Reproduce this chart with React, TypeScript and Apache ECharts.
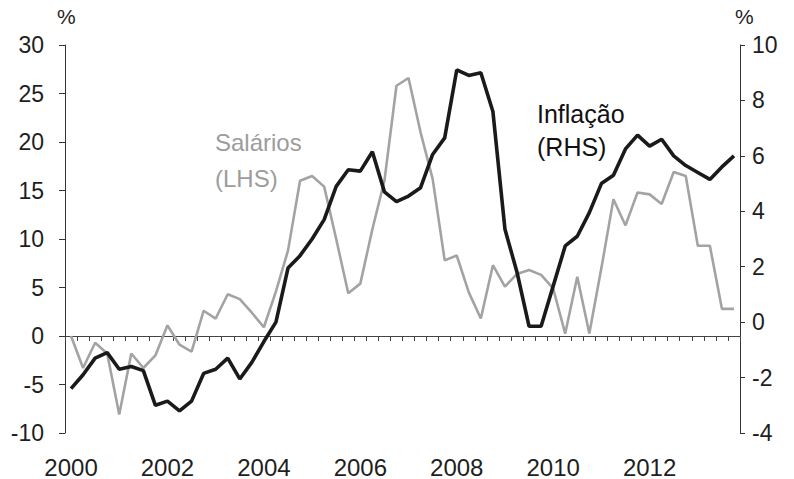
import React, { useEffect, useRef } from "react";
import * as echarts from "echarts";

const years: number[] = [2000, 2001, 2002, 2003, 2004, 2005, 2006, 2007, 2008, 2009, 2010, 2011, 2012, 2013];
const quarters: string[] = years.flatMap((y) => [`${y}T1`, `${y}T2`, `${y}T3`, `${y}T4`]);

// Inflação (RHS), %
const inflacao: number[] = [
  -2.4, -1.9, -1.3, -1.1, -1.7, -1.6, -1.75, -3.0,
  -2.85, -3.2, -2.85, -1.85, -1.7, -1.3, -2.05, -1.45,
  -0.7, 0.0, 1.95, 2.4, 3.0, 3.7, 4.9, 5.5,
  5.45, 6.15, 4.7, 4.35, 4.55, 4.85, 6.05, 6.65,
  9.1, 8.9, 9.0, 7.6, 3.35, 1.8, -0.15, -0.15,
  1.3, 2.75, 3.1, 3.95, 5.0, 5.3, 6.25, 6.75,
  6.35, 6.6, 6.0, 5.65, 5.4, 5.15, 5.6, 6.0,
];

// Salários (LHS), %
const salarios: number[] = [
  0.0, -3.3, -0.7, -1.8, -8.1, -1.8, -3.3, -2.0,
  1.1, -0.9, -1.6, 2.6, 1.8, 4.3, 3.8, 2.4,
  0.9, 4.6, 8.8, 16.0, 16.5, 15.4, 10.0, 4.4,
  5.4, 11.0, 16.0, 25.8, 26.6, 21.0, 16.2, 7.8,
  8.3, 4.5, 1.8, 7.3, 5.1, 6.4, 6.8, 6.3,
  4.9, 0.25, 6.1, 0.25, 7.0, 14.1, 11.4, 14.8,
  14.6, 13.6, 16.9, 16.5, 9.3, 9.3, 2.8, 2.8,
];

const leftAxis = { min: -10, max: 30, interval: 5 };
const rightAxis = { min: -4, max: 10, interval: 2 };

const FONT = "'Liberation Sans', Arial, sans-serif";
const AXIS_COLOR = "#333";
const TEXT_COLOR = "#1e1e1e";

export default function App() {
  const ref = useRef<HTMLDivElement>(null);

  useEffect(() => {
    if (!ref.current) return;
    const chart = echarts.init(ref.current, undefined, { renderer: "svg" });
    chart.setOption({
      animation: false,
      backgroundColor: "#ffffff",
      textStyle: { fontFamily: FONT },
      grid: { left: 65, right: 54, top: 45, height: 389, containLabel: false },
      xAxis: [
        {
          type: "category",
          data: quarters,
          position: "bottom",
          boundaryGap: true,
          axisLine: { show: false, onZero: false },
          axisTick: { show: false },
          splitLine: { show: false },
          axisLabel: {
            interval: 7,
            formatter: (v: string) => v.slice(0, 4),
            fontSize: 24,
            color: TEXT_COLOR,
            fontFamily: FONT,
            margin: 22,
          },
        },
        {
          type: "category",
          data: quarters,
          position: "top",
          boundaryGap: true,
          axisLine: { show: true, onZero: true, onZeroAxisIndex: 0, lineStyle: { color: "#444", width: 1 } },
          axisTick: { show: true, inside: true, interval: 0, length: 5, lineStyle: { color: "#444", width: 1 } },
          axisLabel: { show: false },
          splitLine: { show: false },
        },
      ],
      yAxis: [
        {
          type: "value",
          position: "left",
          ...leftAxis,
          axisLine: { show: true, lineStyle: { color: AXIS_COLOR, width: 1 } },
          axisTick: { show: true, length: 6, lineStyle: { color: AXIS_COLOR } },
          splitLine: { show: false },
          axisLabel: { fontSize: 23, color: TEXT_COLOR, fontFamily: FONT, margin: 21 },
        },
        {
          type: "value",
          position: "right",
          ...rightAxis,
          axisLine: { show: true, lineStyle: { color: AXIS_COLOR, width: 1 } },
          axisTick: { show: true, length: 5, lineStyle: { color: AXIS_COLOR } },
          splitLine: { show: false },
          axisLabel: { fontSize: 23, color: TEXT_COLOR, fontFamily: FONT, margin: 12 },
        },
      ],
      series: [
        {
          name: "Salários (LHS)",
          type: "line",
          xAxisIndex: 0,
          yAxisIndex: 0,
          data: salarios,
          symbol: "none",
          lineStyle: { color: "#a3a3a3", width: 2.6 },
          z: 2,
        },
        {
          name: "Inflação (RHS)",
          type: "line",
          xAxisIndex: 0,
          yAxisIndex: 1,
          data: inflacao,
          symbol: "none",
          lineStyle: { color: "#1a1a1a", width: 3.6 },
          z: 3,
        },
      ],
      graphic: [
        { type: "text", left: 57, top: 6, style: { text: "%", fontSize: 21, fill: TEXT_COLOR, fontFamily: FONT } },
        { type: "text", left: 735, top: 6, style: { text: "%", fontSize: 21, fill: TEXT_COLOR, fontFamily: FONT } },
        { type: "text", left: 215, top: 130, style: { text: "Salários", fontSize: 24, fill: "#9c9c9c", fontFamily: FONT } },
        { type: "text", left: 215, top: 166, style: { text: "(LHS)", fontSize: 24, fill: "#9c9c9c", fontFamily: FONT } },
        { type: "text", left: 537, top: 101, style: { text: "Inflação", fontSize: 25, fill: "#111", fontFamily: FONT } },
        { type: "text", left: 537, top: 134, style: { text: "(RHS)", fontSize: 25, fill: "#111", fontFamily: FONT } },
      ],
    });
    return () => chart.dispose();
  }, []);

  return (
    <div
      ref={ref}
      style={{ position: "fixed", left: 0, top: 0, width: 794, height: 479, background: "#fff" }}
    />
  );
}
